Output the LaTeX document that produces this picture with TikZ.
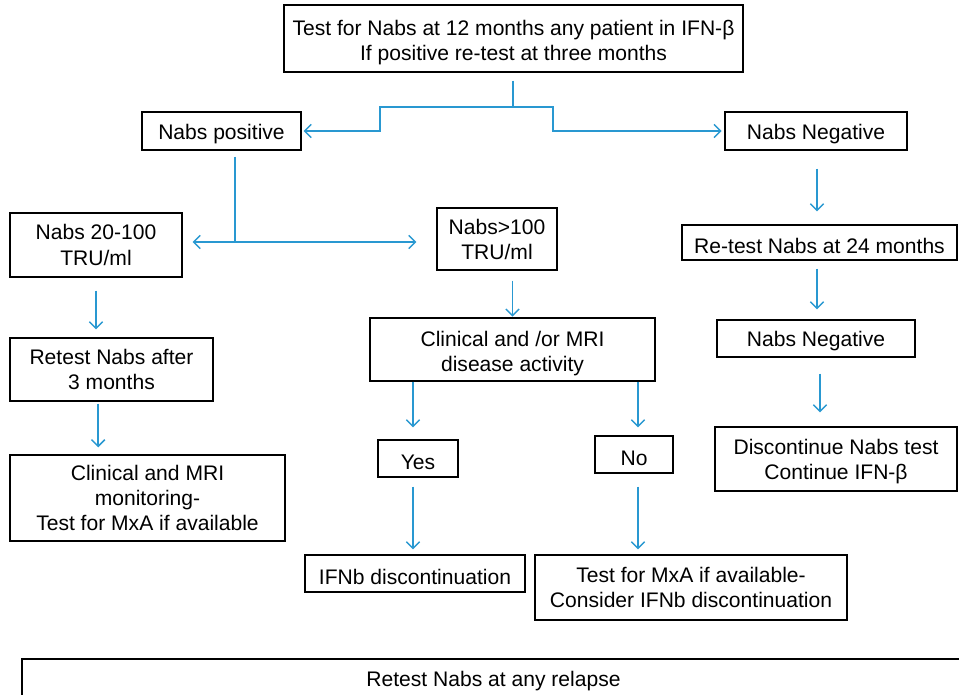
\documentclass[tikz,border=0pt]{standalone}
\usepackage{fontspec}
\setmainfont{Liberation Sans}
\usetikzlibrary{arrows.meta}
\definecolor{arr}{RGB}{41,152,209}
\newcommand\fstline[1]{\rule{0pt}{#1}}
\begin{document}
\begin{tikzpicture}[x=0.75pt,y=-0.75pt,
 box/.style={draw=black, line width=0.9pt, inner sep=0pt, align=center, font=\fontsize{15.8}{18.75}\selectfont, execute at begin node={\rule{0pt}{16pt}}},
 conn/.style={draw=arr, line width=1.1pt, -{Straight Barb[length=5pt,width=10pt,line width=1.1pt]}},
 plain/.style={draw=arr, line width=1.1pt}]
\useasboundingbox (0,0) rectangle (959,695);
\node[box, minimum width=344.25pt, minimum height=50.25pt] (top) at (513.5,38.5) {\fstline{17.6pt}Test for Nabs at 12 months any patient in IFN-β\\If positive re-test at three months};
\node[box, minimum width=119.25pt, minimum height=28.5pt] (npos) at (221.5,131) {Nabs positive};
\node[box, minimum width=136.5pt, minimum height=28.5pt] (nneg) at (816,131) {Nabs Negative};
\node[box, minimum width=129pt, minimum height=48pt] (n20) at (96,245) {Nabs 20-100\\[1pt]TRU/ml};
\node[box, minimum width=90pt, minimum height=46.5pt] (n100) at (497,239) {Nabs>100\\TRU/ml};
\node[box, minimum width=206.25pt, minimum height=26.25pt] (re24) at (819.5,242.5) {Re-test Nabs at 24 months};
\node[box, minimum width=148.5pt, minimum height=27.75pt] (nneg2) at (816,338.5) {Nabs Negative};
\node[box, minimum width=181.5pt, minimum height=48pt] (disc) at (836,459) {\fstline{14.6pt}Discontinue Nabs test\\Continue IFN-β};
\node[box, minimum width=152.25pt, minimum height=47.25pt] (re3) at (111.5,369.5) {Retest Nabs after\\3 months};
\node[box, minimum width=206.25pt, minimum height=64.5pt] (clinmon) at (147.5,498) {Clinical and MRI\\monitoring-\\Test for MxA if available};
\node[box, minimum width=213.75pt, minimum height=47.25pt] (clinmri) at (512.5,349.5) {\fstline{17pt}Clinical and /or MRI\\disease activity};
\node[box, minimum width=60pt, minimum height=27.75pt] (yes) at (418,458.5) {Yes};
\node[box, minimum width=58.5pt, minimum height=27.75pt] (no) at (634,454.5) {No};
\node[box, minimum width=165pt, minimum height=27.75pt] (ifnb) at (415,573.5) {IFNb discontinuation};
\node[box, minimum width=234pt, minimum height=48.75pt] (mxa) at (691,587.5) {Test for MxA if available-\\Consider IFNb discontinuation};
\node[box, minimum width=707.25pt, minimum height=28.5pt] (relapse) at (493.5,678) {Retest Nabs at any relapse};
% top split
\coordinate (j) at (513,107);
\coordinate (jl) at (380,107);
\coordinate (jr) at (553,107);
\draw[plain, shorten <=6pt] (top.south -| j) -- (j);
\draw[conn, shorten >=1.5pt] (j) -- (jl) |- (npos.east);
\draw[conn, shorten >=2pt] (j) -- (jr) |- (nneg.west);
% nabs positive split
\coordinate (k) at (235,242);
\draw[plain, shorten <=4.5pt] (npos.south -| k) -- (k);
\draw[conn, shorten >=7.5pt] (k) -- (k -| n20.east);
\draw[conn, shorten >=15pt] (k) -- (k -| n100.west);
% left column
\draw[conn, shorten <=9.75pt, shorten >=6pt] (n20.south) -- (n20.south |- re3.north);
\draw[conn, shorten <=1.5pt, shorten >=5.25pt] ([xshift=-10pt]re3.south) -- ([xshift=-10pt]re3.south |- clinmon.north);
% middle column
\draw[conn, shorten <=7.5pt, shorten >=0.5pt] (clinmri.north |- n100.south) -- (clinmri.north);
\draw[conn, shorten >=9pt] ([xshift=-3.75pt]yes.north |- clinmri.south) -- ([xshift=-3.75pt]yes.north);
\draw[conn, shorten >=6pt] ([xshift=3pt]no.north |- clinmri.south) -- ([xshift=3pt]no.north);
\draw[conn, shorten <=6.75pt, shorten >=3.75pt] ([xshift=-3.75pt]yes.south) -- ([xshift=-3.75pt]yes.south |- ifnb.north);
\draw[conn, shorten <=9.75pt, shorten >=3.75pt] ([xshift=3pt]no.south) -- ([xshift=3pt]no.south |- mxa.north);
% right column
\draw[conn, shorten <=13.5pt, shorten >=9.75pt] ([xshift=0.75pt]nneg.south) -- ([xshift=0.75pt]nneg.south |- re24.north);
\draw[conn, shorten <=6pt, shorten >=7.5pt] ([xshift=0.75pt]nneg.south |- re24.south) -- ([xshift=0.75pt]nneg.south |- nneg2.north);
\draw[conn, shorten <=12pt, shorten >=10.5pt] ([xshift=3pt]nneg2.south) -- ([xshift=3pt]nneg2.south |- disc.north);
\end{tikzpicture}
\end{document}
